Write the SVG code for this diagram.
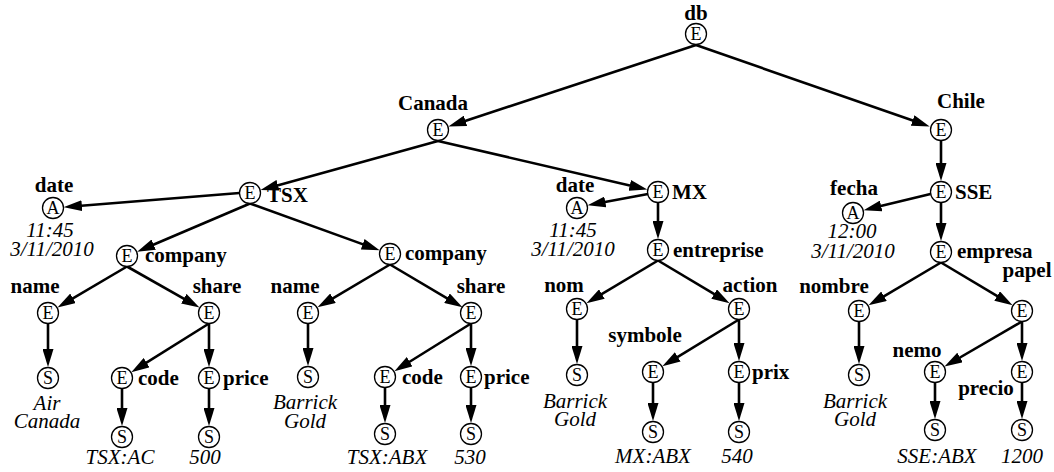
<svg xmlns="http://www.w3.org/2000/svg" width="1054" height="472" viewBox="0 0 1054 472">
  <style>
    .n circle { fill: #fff; stroke: #000; stroke-width: 1.3; }
    text { font-family: 'Liberation Serif', 'Times New Roman', serif; }
    .k { font-size: 18px; text-anchor: middle; }
    .lb { font-size: 21px; font-weight: bold; }
    .v { font-size: 21px; font-style: italic; text-anchor: middle; }
    .m { text-anchor: middle; }
    #edges path { fill: none; stroke: #000; stroke-width: 2.6; marker-end: url(#arr); }
  </style>
  <defs>
    <marker id="arr" markerUnits="userSpaceOnUse" markerWidth="18" markerHeight="11" refX="10" refY="5.5" orient="auto">
      <path d="M0,0 L18,5.5 L0,11 z" fill="#000"/>
    </marker>
  </defs>
  <rect width="1054" height="472" fill="#fff"/>

  <!-- parent-to-child edges, arrowhead touching the child circle -->
  <g id="edges">
    <path d="M696,45 L456,124"/>
    <path d="M696,45 L922.1,123.8"/>
    <path d="M438,141 L268.3,187.9"/>
    <path d="M438,141 L639.5,187.7"/>
    <path d="M239.5,193 L71.9,206.5"/>
    <path d="M250,203.5 L144.5,248.5"/>
    <path d="M250,203.5 L372.1,247.6"/>
    <path d="M127,266.5 L64.4,303.4"/>
    <path d="M127,266.5 L192.5,303.6"/>
    <path d="M48,323.5 L48,359"/>
    <path d="M209,323.5 L138.1,367.9"/>
    <path d="M209,323.5 L209,359"/>
    <path d="M122,388.5 L122,418"/>
    <path d="M209,388.5 L209,418"/>
    <path d="M390,264.5 L324.4,303.3"/>
    <path d="M390,264.5 L455.6,303.3"/>
    <path d="M308,323.5 L308,358"/>
    <path d="M471,323.5 L401.2,367"/>
    <path d="M471,323.5 L471,358"/>
    <path d="M385,387.5 L385,415"/>
    <path d="M471,387.5 L471,415"/>
    <path d="M648,194 L595.5,203.8"/>
    <path d="M658,202.5 L658,231"/>
    <path d="M658,260.5 L593.3,299.2"/>
    <path d="M658,260.5 L722.7,299.2"/>
    <path d="M577,319.5 L577,356"/>
    <path d="M739,319.5 L669.2,362.1"/>
    <path d="M739,319.5 L739,353"/>
    <path d="M653,382.5 L653,413"/>
    <path d="M739,382.5 L739,413"/>
    <path d="M941,140.5 L941,173"/>
    <path d="M930.5,194 L871.4,208.3"/>
    <path d="M941,202.5 L941,233"/>
    <path d="M941,262.5 L875.4,301.3"/>
    <path d="M941,262.5 L1005.7,301.2"/>
    <path d="M859,321.5 L859,356"/>
    <path d="M1022,321.5 L951.4,362.5"/>
    <path d="M1022,321.5 L1022,353"/>
    <path d="M935,382.5 L935,411"/>
    <path d="M1022,382.5 L1022,411"/>
  </g>

  <!-- root -->
  <g id="db" class="n"><circle cx="696" cy="34" r="10.5"/><text class="k" x="696" y="40">E</text><text class="lb m" x="696" y="20">db</text></g>

  <!-- Canada branch -->
  <g id="canada" class="n"><circle cx="438" cy="130" r="10.5"/><text class="k" x="438" y="136">E</text><text class="lb m" x="433" y="110">Canada</text></g>
  <g id="tsx" class="n"><circle cx="250" cy="193" r="10.5"/><text class="k" x="250" y="199">E</text><text class="lb" x="267" y="202">TSX</text></g>
  <g id="tsx-date" class="n"><circle cx="53" cy="208" r="10.5"/><text class="k" x="53" y="214">A</text><text class="lb m" x="54" y="192">date</text><text class="v" x="50" y="237">11:45</text><text class="v" x="52" y="256">3/11/2010</text></g>
  <g id="company1" class="n"><circle cx="127" cy="256" r="10.5"/><text class="k" x="127" y="262">E</text><text class="lb" x="145" y="262">company</text></g>
  <g id="name1" class="n"><circle cx="48" cy="313" r="10.5"/><text class="k" x="48" y="319">E</text><text class="lb m" x="35" y="293">name</text></g>
  <g id="share1" class="n"><circle cx="209" cy="313" r="10.5"/><text class="k" x="209" y="319">E</text><text class="lb m" x="217" y="293">share</text></g>
  <g id="name1-val" class="n"><circle cx="48" cy="378" r="10.5"/><text class="k" x="48" y="384">S</text><text class="v" x="47" y="410">Air</text><text class="v" x="47" y="428">Canada</text></g>
  <g id="code1" class="n"><circle cx="122" cy="378" r="10.5"/><text class="k" x="122" y="384">E</text><text class="lb" x="138" y="385">code</text></g>
  <g id="price1" class="n"><circle cx="209" cy="378" r="10.5"/><text class="k" x="209" y="384">E</text><text class="lb" x="223" y="385">price</text></g>
  <g id="code1-val" class="n"><circle cx="122" cy="437" r="10.5"/><text class="k" x="122" y="443">S</text><text class="v" x="120" y="464">TSX:AC</text></g>
  <g id="price1-val" class="n"><circle cx="209" cy="437" r="10.5"/><text class="k" x="209" y="443">S</text><text class="v" x="205" y="464">500</text></g>

  <g id="company2" class="n"><circle cx="390" cy="254" r="10.5"/><text class="k" x="390" y="260">E</text><text class="lb" x="405" y="260">company</text></g>
  <g id="name2" class="n"><circle cx="308" cy="313" r="10.5"/><text class="k" x="308" y="319">E</text><text class="lb m" x="295" y="293">name</text></g>
  <g id="share2" class="n"><circle cx="471" cy="313" r="10.5"/><text class="k" x="471" y="319">E</text><text class="lb m" x="481" y="293">share</text></g>
  <g id="name2-val" class="n"><circle cx="308" cy="377" r="10.5"/><text class="k" x="308" y="383">S</text><text class="v" x="305" y="409">Barrick</text><text class="v" x="305" y="428">Gold</text></g>
  <g id="code2" class="n"><circle cx="385" cy="377" r="10.5"/><text class="k" x="385" y="383">E</text><text class="lb" x="402" y="384">code</text></g>
  <g id="price2" class="n"><circle cx="471" cy="377" r="10.5"/><text class="k" x="471" y="383">E</text><text class="lb" x="484" y="384">price</text></g>
  <g id="code2-val" class="n"><circle cx="385" cy="434" r="10.5"/><text class="k" x="385" y="440">S</text><text class="v" x="387" y="464">TSX:ABX</text></g>
  <g id="price2-val" class="n"><circle cx="471" cy="434" r="10.5"/><text class="k" x="471" y="440">S</text><text class="v" x="470" y="464">530</text></g>

  <g id="mx" class="n"><circle cx="658" cy="192" r="10.5"/><text class="k" x="658" y="198">E</text><text class="lb" x="672" y="199">MX</text></g>
  <g id="mx-date" class="n"><circle cx="577" cy="208" r="10.5"/><text class="k" x="577" y="214">A</text><text class="lb m" x="575" y="192">date</text><text class="v" x="573" y="237">11:45</text><text class="v" x="573" y="256">3/11/2010</text></g>
  <g id="entreprise" class="n"><circle cx="658" cy="250" r="10.5"/><text class="k" x="658" y="256">E</text><text class="lb" x="673" y="257">entreprise</text></g>
  <g id="nom" class="n"><circle cx="577" cy="309" r="10.5"/><text class="k" x="577" y="315">E</text><text class="lb m" x="564" y="292">nom</text></g>
  <g id="action" class="n"><circle cx="739" cy="309" r="10.5"/><text class="k" x="739" y="315">E</text><text class="lb m" x="750" y="292">action</text></g>
  <g id="nom-val" class="n"><circle cx="577" cy="375" r="10.5"/><text class="k" x="577" y="381">S</text><text class="v" x="575" y="408">Barrick</text><text class="v" x="575" y="426">Gold</text></g>
  <g id="symbole" class="n"><circle cx="653" cy="372" r="10.5"/><text class="k" x="653" y="378">E</text><text class="lb m" x="645" y="342">symbole</text></g>
  <g id="prix" class="n"><circle cx="739" cy="372" r="10.5"/><text class="k" x="739" y="378">E</text><text class="lb" x="752" y="379">prix</text></g>
  <g id="symbole-val" class="n"><circle cx="653" cy="432" r="10.5"/><text class="k" x="653" y="438">S</text><text class="v" x="653" y="463">MX:ABX</text></g>
  <g id="prix-val" class="n"><circle cx="739" cy="432" r="10.5"/><text class="k" x="739" y="438">S</text><text class="v" x="737" y="463">540</text></g>

  <!-- Chile branch -->
  <g id="chile" class="n"><circle cx="941" cy="130" r="10.5"/><text class="k" x="941" y="136">E</text><text class="lb" x="937" y="108">Chile</text></g>
  <g id="sse" class="n"><circle cx="941" cy="192" r="10.5"/><text class="k" x="941" y="198">E</text><text class="lb" x="955" y="199">SSE</text></g>
  <g id="fecha" class="n"><circle cx="853" cy="213" r="10.5"/><text class="k" x="853" y="219">A</text><text class="lb m" x="854" y="195">fecha</text><text class="v" x="852" y="238">12:00</text><text class="v" x="853" y="258">3/11/2010</text></g>
  <g id="empresa" class="n"><circle cx="941" cy="252" r="10.5"/><text class="k" x="941" y="258">E</text><text class="lb" x="957" y="258">empresa</text></g>
  <g id="nombre" class="n"><circle cx="859" cy="311" r="10.5"/><text class="k" x="859" y="317">E</text><text class="lb m" x="834" y="293">nombre</text></g>
  <g id="papel" class="n"><circle cx="1022" cy="311" r="10.5"/><text class="k" x="1022" y="317">E</text><text class="lb m" x="1027" y="277">papel</text></g>
  <g id="nombre-val" class="n"><circle cx="859" cy="375" r="10.5"/><text class="k" x="859" y="381">S</text><text class="v" x="855" y="408">Barrick</text><text class="v" x="855" y="426">Gold</text></g>
  <g id="nemo" class="n"><circle cx="935" cy="372" r="10.5"/><text class="k" x="935" y="378">E</text><text class="lb m" x="917" y="357">nemo</text></g>
  <g id="precio" class="n"><circle cx="1022" cy="372" r="10.5"/><text class="k" x="1022" y="378">E</text><text class="lb m" x="986" y="395">precio</text></g>
  <g id="nemo-val" class="n"><circle cx="935" cy="430" r="10.5"/><text class="k" x="935" y="436">S</text><text class="v" x="937" y="463">SSE:ABX</text></g>
  <g id="precio-val" class="n"><circle cx="1022" cy="430" r="10.5"/><text class="k" x="1022" y="436">S</text><text class="v" x="1022" y="463">1200</text></g>
</svg>
